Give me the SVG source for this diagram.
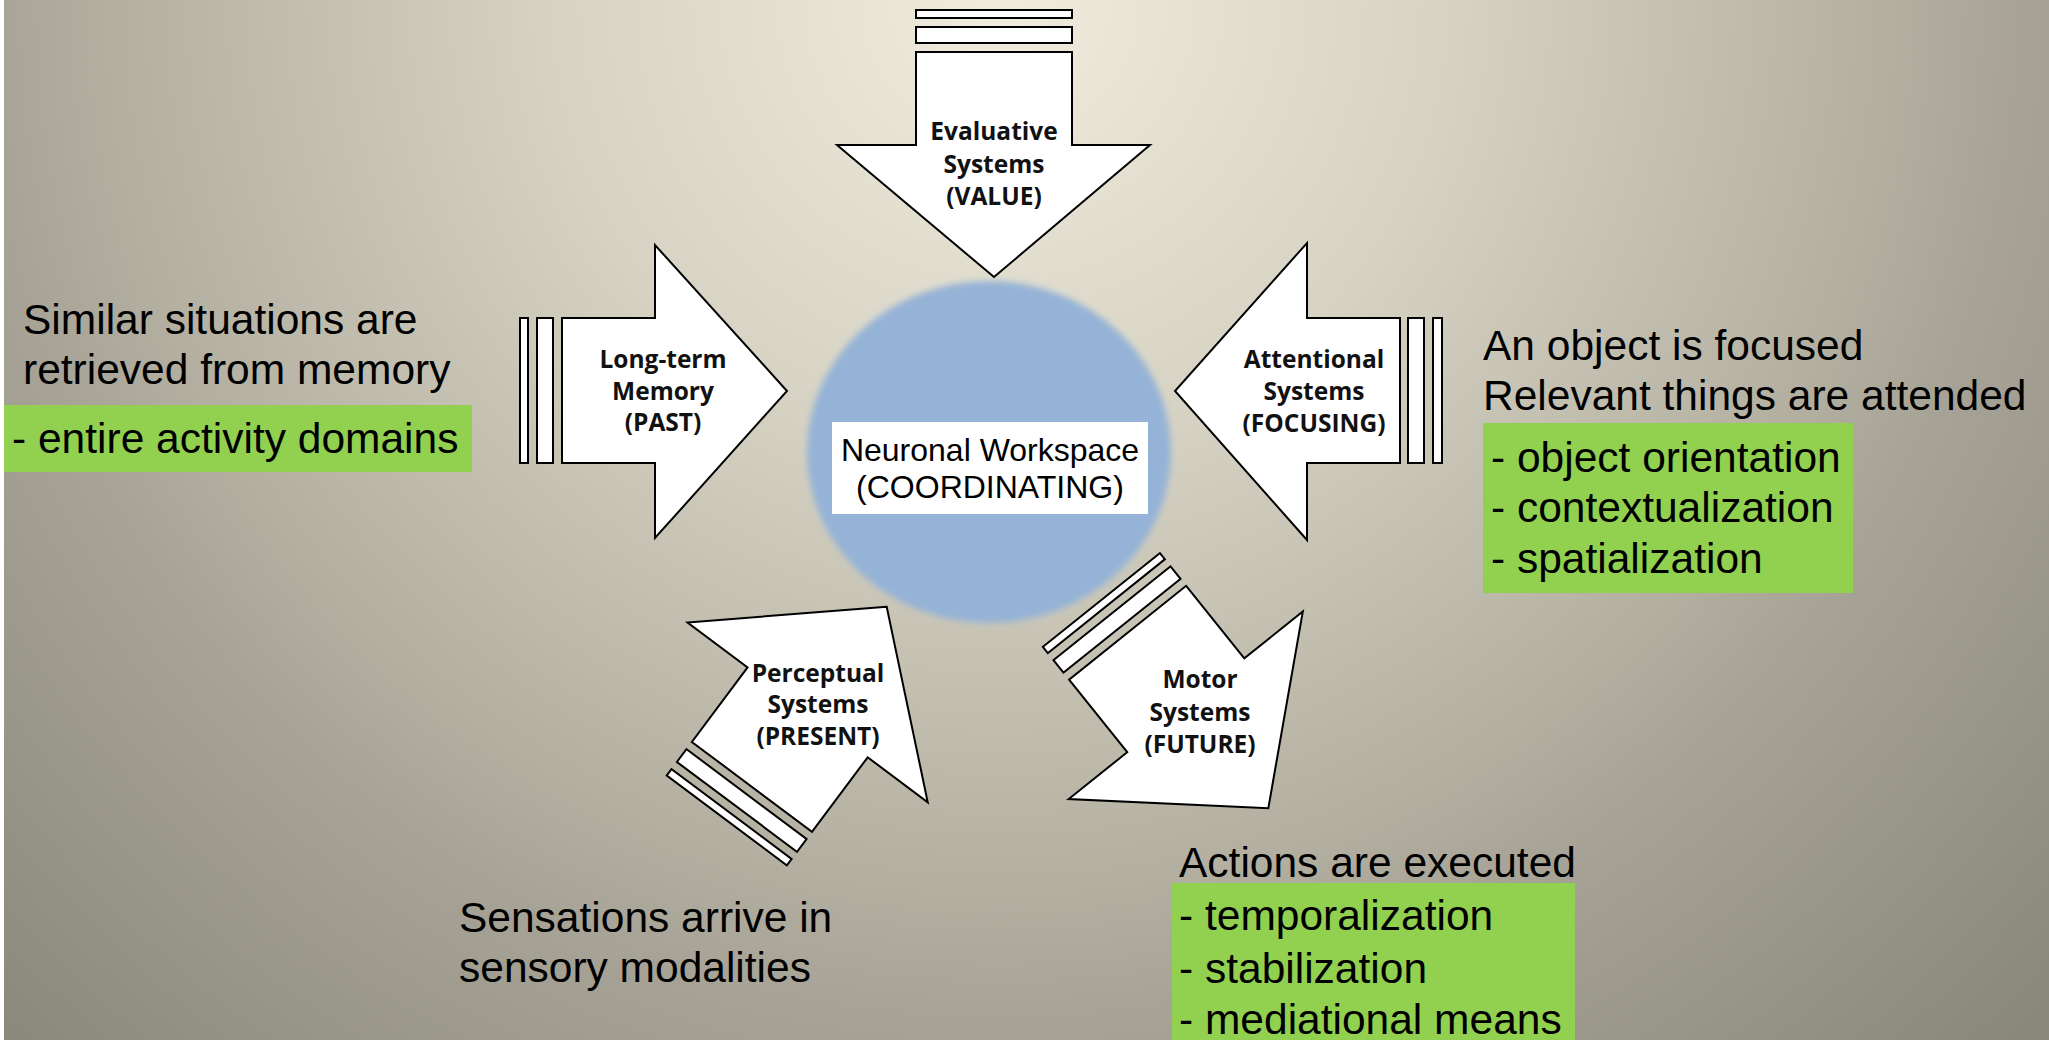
<svg xmlns="http://www.w3.org/2000/svg" width="2049" height="1040" viewBox="0 0 2049 1040">
<defs>
  <radialGradient id="bg" gradientUnits="userSpaceOnUse" cx="1000" cy="0" r="1450">
    <stop offset="0" stop-color="#f0eddf"/>
    <stop offset="0.31" stop-color="#d6d3c4"/>
    <stop offset="0.62" stop-color="#b2afa1"/>
    <stop offset="0.7" stop-color="#a7a497"/>
    <stop offset="1" stop-color="#8a877b"/>
  </radialGradient>
  <filter id="soft" x="-10%" y="-10%" width="120%" height="120%">
    <feGaussianBlur stdDeviation="3"/>
  </filter>
</defs>
<style>
  .arrow { fill: #ffffff; stroke: #000000; stroke-width: 2; stroke-linejoin: miter; }
  .lbl { font-family: "Open Sans", "DejaVu Sans", sans-serif; font-weight: bold; font-size: 24.5px; fill: #111111; text-anchor: middle; }
  .note { font-family: "Liberation Sans", Arial, sans-serif; font-size: 42.5px; fill: #000000; }
  .hl { fill: #92d050; }
  .core { font-family: "Liberation Sans", Arial, sans-serif; font-size: 32px; fill: #000000; text-anchor: middle; }
</style>
<rect x="0" y="0" width="2049" height="1040" fill="#ffffff"/>
<rect x="4" y="0" width="2045" height="1040" fill="url(#bg)"/>

<g id="workspace">
  <ellipse cx="989" cy="452" rx="182" ry="171" fill="#95b3d7" filter="url(#soft)"/>
  <rect x="832" y="422" width="316" height="92" fill="#ffffff"/>
  <text class="core" x="990" y="461">Neuronal Workspace</text>
  <text class="core" x="990" y="498">(COORDINATING)</text>
</g>

<g id="connectors"></g>

<g id="evaluative">
  <rect class="arrow" x="916" y="10" width="156" height="8"/>
  <rect class="arrow" x="916" y="27" width="156" height="16"/>
  <polygon class="arrow" points="916,52 1072,52 1072,145 1150,145 994,277 837,145 916,145"/>
  <text class="lbl" x="994" y="140">Evaluative</text>
  <text class="lbl" x="994" y="173">Systems</text>
  <text class="lbl" x="994" y="205">(VALUE)</text>
</g>

<g id="longterm">
  <rect class="arrow" x="520" y="318" width="8" height="145"/>
  <rect class="arrow" x="537" y="318" width="16" height="145"/>
  <polygon class="arrow" points="562,318 655,318 655,245 787,391 655,538 655,463 562,463"/>
  <text class="lbl" x="663" y="368">Long-term</text>
  <text class="lbl" x="663" y="400">Memory</text>
  <text class="lbl" x="663" y="431">(PAST)</text>
</g>

<g id="attentional">
  <rect class="arrow" x="1408" y="318" width="16" height="145"/>
  <rect class="arrow" x="1433" y="318" width="9" height="145"/>
  <polygon class="arrow" points="1400,318 1307,318 1307,243 1175,391 1307,540 1307,463 1400,463"/>
  <text class="lbl" x="1314" y="368">Attentional</text>
  <text class="lbl" x="1314" y="400">Systems</text>
  <text class="lbl" x="1314" y="432">(FOCUSING)</text>
</g>

<g id="perceptual">
  <g transform="translate(886.7,606.7) rotate(-53.2)">
    <rect class="arrow" x="-250" y="-75" width="16" height="150"/>
    <rect class="arrow" x="-267" y="-75" width="8" height="150"/>
    <polygon class="arrow" points="0,0 -132,-150 -132,-75 -225,-75 -225,75 -132,75 -132,150"/>
  </g>
  <text class="lbl" x="818" y="682">Perceptual</text>
  <text class="lbl" x="818" y="713">Systems</text>
  <text class="lbl" x="818" y="745">(PRESENT)</text>
</g>

<g id="motor">
  <g transform="translate(1268.3,808.3) rotate(51.3)">
    <rect class="arrow" x="-250" y="-75" width="16" height="150"/>
    <rect class="arrow" x="-267" y="-75" width="8" height="150"/>
    <polygon class="arrow" points="0,0 -132,-150 -132,-75 -225,-75 -225,75 -132,75 -132,150"/>
  </g>
  <text class="lbl" x="1200" y="688">Motor</text>
  <text class="lbl" x="1200" y="721">Systems</text>
  <text class="lbl" x="1200" y="753">(FUTURE)</text>
</g>

<g id="note-memory">
  <text class="note" x="23" y="334">Similar situations are</text>
  <text class="note" x="23" y="384">retrieved from memory</text>
  <rect class="hl" x="4" y="405" width="468" height="67"/>
  <text class="note" x="12" y="453">- entire activity domains</text>
</g>

<g id="note-attention">
  <text class="note" x="1483" y="360">An object is focused</text>
  <text class="note" x="1483" y="410">Relevant things are attended</text>
  <rect class="hl" x="1483" y="423" width="370" height="170"/>
  <text class="note" x="1491" y="472">- object orientation</text>
  <text class="note" x="1491" y="522">- contextualization</text>
  <text class="note" x="1491" y="573">- spatialization</text>
</g>

<g id="note-motor">
  <text class="note" x="1179" y="877">Actions are executed</text>
  <rect class="hl" x="1172" y="883" width="403" height="157"/>
  <text class="note" x="1179" y="930">- temporalization</text>
  <text class="note" x="1179" y="983">- stabilization</text>
  <text class="note" x="1179" y="1034">- mediational means</text>
</g>

<g id="note-perception">
  <text class="note" x="459" y="932">Sensations arrive in</text>
  <text class="note" x="459" y="982">sensory modalities</text>
</g>
</svg>
